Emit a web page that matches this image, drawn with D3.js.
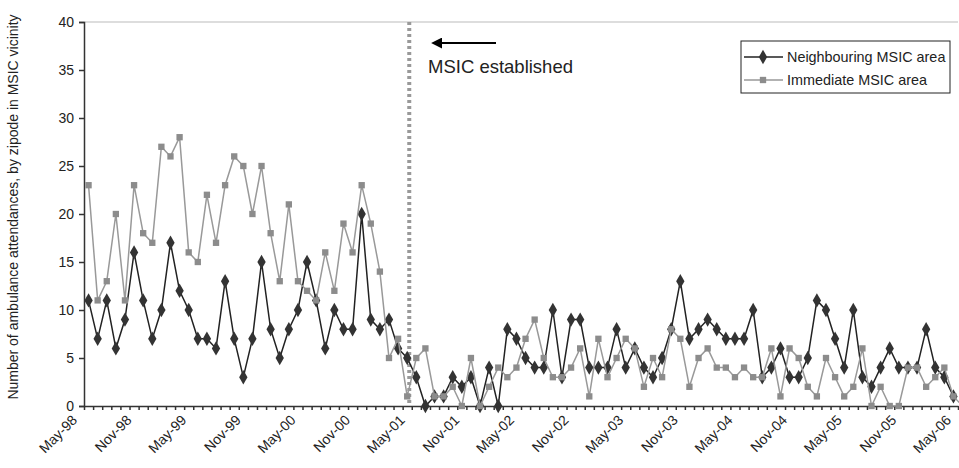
<!DOCTYPE html>
<html>
<head>
<meta charset="utf-8">
<script src="https://cdn.jsdelivr.net/npm/d3@7"></script>
<style>
  body { margin: 0; background: #fff; }
  #container { width: 959px; height: 468px; }
  text { font-family: "Liberation Sans", Arial, sans-serif; fill: #222; }
</style>
</head>
<body>
<div id="container"></div>
<script>
// monthly counts, May-98 .. Apr-06
var neighbouring = [11, 7, 11, 6, 9, 16, 11, 7, 10, 17, 12, 10, 7, 7, 6, 13, 7, 3, 7, 15, 8, 5, 8, 10,
    15, 11, 6, 10, 8, 8, 20, 9, 8, 9, 6, 5, 3, 0, 1, 1, 3, 2, 3, 0, 4, 0, 8, 7,
    5, 4, 4, 10, 3, 9, 9, 4, 4, 4, 8, 4, 6, 4, 3, 5, 8, 13, 7, 8, 9, 8, 7, 7,
    7, 10, 3, 4, 6, 3, 3, 5, 11, 10, 7, 4, 10, 3, 2, 4, 6, 4, 4, 4, 8, 4, 3, 1];
var immediate = [23, 11, 13, 20, 11, 23, 18, 17, 27, 26, 28, 16, 15, 22, 17, 23, 26, 25, 20, 25, 18, 13, 21, 13,
    12, 11, 16, 12, 19, 16, 23, 19, 14, 5, 7, 1, 5, 6, 1, 1, 2, 0, 5, 0, 2, 4, 3, 4,
    7, 9, 5, 3, 3, 4, 6, 1, 7, 3, 5, 7, 6, 2, 5, 3, 8, 7, 2, 5, 6, 4, 4, 3,
    4, 3, 3, 6, 1, 6, 5, 2, 1, 5, 3, 1, 2, 6, 0, 2, 0, 0, 4, 4, 2, 3, 4, 1, 0, 1];
var tickLabels = ["May-98", "Nov-98", "May-99", "Nov-99", "May-00", "Nov-00", "May-01", "Nov-01", "May-02",
    "Nov-02", "May-03", "Nov-03", "May-04", "Nov-04", "May-05", "Nov-05", "May-06"];
var yTicks = [0, 5, 10, 15, 20, 25, 30, 35, 40];
var msicMonth = 36; // May-01
var seriesNames = ["Neighbouring MSIC area", "Immediate MSIC area"];

var width = 959, height = 468;
var margin = {top: 22, right: 1, bottom: 62, left: 84};

var svg = d3.select("#container").append("svg")
    .attr("width", width)
    .attr("height", height);

var x = d3.scaleLinear()
    .domain([0, 96])
    .range([margin.left, width - margin.right]);
var y = d3.scaleLinear()
    .domain([0, 40])
    .range([height - margin.bottom, margin.top]);

// top frame line
svg.append("line")
    .attr("x1", x(0)).attr("x2", x(96))
    .attr("y1", y(40)).attr("y2", y(40))
    .attr("stroke", "#bbb");

// y axis
var yAxis = svg.append("g")
    .attr("transform", "translate(" + x(0) + ",0)")
    .call(d3.axisLeft(y).tickValues(yTicks).tickSize(5).tickPadding(5));
yAxis.selectAll("text").style("font-size", "14px").style("font-family", "Liberation Sans, Arial, sans-serif").attr("fill", "#222");
yAxis.selectAll("line, path").attr("stroke", "#333").attr("stroke-width", 1.5);

// x axis: month ticks
var xAxis = svg.append("g")
    .attr("transform", "translate(0," + y(0) + ")")
    .call(d3.axisBottom(x).tickValues(d3.range(0, 97)).tickSize(4).tickSizeOuter(0).tickFormat(""));
xAxis.selectAll("line, path").attr("stroke", "#333").attr("stroke-width", 1.5);

svg.append("g").selectAll("text")
    .data(tickLabels)
    .enter().append("text")
    .attr("transform", function(d, i) {
        return "translate(" + (x(i * 6) - 6) + "," + (y(0) + 15) + ") rotate(-45)";
    })
    .attr("text-anchor", "end")
    .style("font-size", "14px")
    .text(function(d) { return d; });

// y axis title
svg.append("text")
    .attr("transform", "translate(18," + 207 + ") rotate(-90)")
    .attr("text-anchor", "middle")
    .style("font-size", "14px")
    .text("Number of ambulance attendances, by zipode in MSIC vicinity");

// MSIC established marker
var xm = x(msicMonth) - 2.5;
svg.append("line")
    .attr("x1", xm).attr("x2", xm)
    .attr("y1", y(40)).attr("y2", y(0))
    .attr("stroke", "#999")
    .attr("stroke-width", 4)
    .attr("stroke-dasharray", "3,3");

svg.append("defs").append("marker")
    .attr("id", "arrow")
    .attr("viewBox", "0 0 10 10")
    .attr("refX", 1).attr("refY", 5)
    .attr("markerWidth", 5).attr("markerHeight", 5)
    .attr("orient", "auto-start-reverse")
    .append("path")
    .attr("d", "M0,0L10,5L0,10z")
    .attr("fill", "#000");

svg.append("line")
    .attr("x1", 496).attr("x2", 441)
    .attr("y1", 43).attr("y2", 43)
    .attr("stroke", "#000")
    .attr("stroke-width", 2.2)
    .attr("marker-end", "url(#arrow)");

svg.append("text")
    .attr("x", 428).attr("y", 73)
    .style("font-size", "18.5px")
    .text("MSIC established");

// series
var line = d3.line()
    .x(function(d, i) { return x(i + 0.5); })
    .y(function(d) { return y(d); });

var diamond = d3.symbol().type(d3.symbolDiamond).size(60);
var square = d3.symbol().type(d3.symbolSquare).size(40);

svg.append("path")
    .datum(neighbouring)
    .attr("d", line)
    .attr("fill", "none")
    .attr("stroke", "#222")
    .attr("stroke-width", 1.5);
svg.append("g").selectAll("path")
    .data(neighbouring)
    .enter().append("path")
    .attr("transform", function(d, i) { return "translate(" + x(i + 0.5) + "," + y(d) + ")"; })
    .attr("d", diamond)
    .attr("fill", "#333");

svg.append("path")
    .datum(immediate)
    .attr("d", line)
    .attr("fill", "none")
    .attr("stroke", "#999")
    .attr("stroke-width", 1.5);
svg.append("g").selectAll("path")
    .data(immediate)
    .enter().append("path")
    .attr("transform", function(d, i) { return "translate(" + x(i + 0.5) + "," + y(d) + ")"; })
    .attr("d", square)
    .attr("fill", "#8c8c8c");

// legend
var legend = svg.append("g").attr("transform", "translate(741,41)");
legend.append("rect")
    .attr("width", 209).attr("height", 52)
    .attr("fill", "#fff")
    .attr("stroke", "#222");
[{c: "#222", m: "#333", s: diamond}, {c: "#999", m: "#8c8c8c", s: square}].forEach(function(e, i) {
    var ly = 16 + i * 23;
    legend.append("line")
        .attr("x1", 3).attr("x2", 42)
        .attr("y1", ly).attr("y2", ly)
        .attr("stroke", e.c).attr("stroke-width", 1.5);
    legend.append("path")
        .attr("transform", "translate(22," + ly + ")")
        .attr("d", e.s)
        .attr("fill", e.m);
    legend.append("text")
        .attr("x", 46).attr("y", ly + 5)
        .style("font-size", "14.4px")
        .text(seriesNames[i]);
});
</script>
</body>
</html>
